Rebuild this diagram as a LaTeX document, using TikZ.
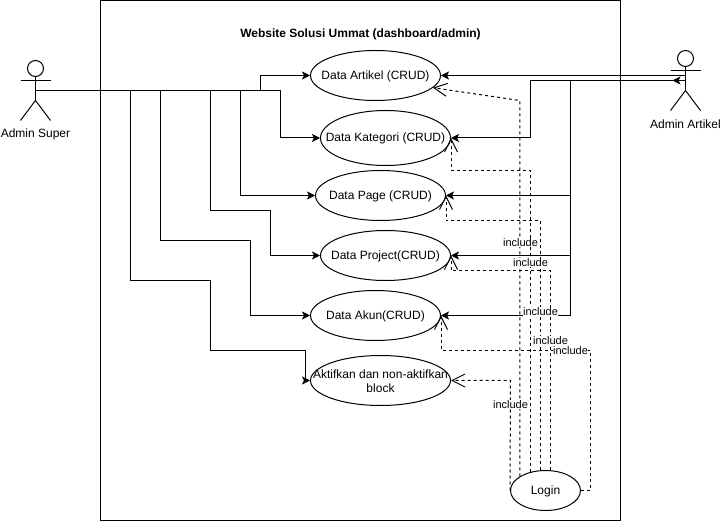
\documentclass[tikz,border=0pt]{standalone}
\usepackage{fontspec}
\setmainfont{Liberation Sans}
\usetikzlibrary{arrows.meta,shapes.geometric}

\tikzset{
  usecase/.style={draw,ellipse,inner sep=0pt,minimum width=130pt,minimum height=50pt},
  include/.style={dashed,-{Straight Barb[length=13pt,width=13pt]}},
  includelabel/.style={fill=white,inner sep=0.5pt,font=\fontsize{11}{13}\selectfont},
}

\begin{document}
\begin{tikzpicture}[>={Stealth[length=8pt,width=8pt,inset=2pt]},x=1pt,y=-1pt,line width=1pt,font=\fontsize{12}{14}\selectfont]
\useasboundingbox (0,0) rectangle (721,521);
% one stick figure drawn from local origin (0,0) = hip
\newcommand{\stickman}{%
  \draw (0,-32) circle (8);
  \draw (0,-24) -- (0,0);
  \draw (-15,-20) -- (15,-20);
  \draw (-15,20) -- (0,0) -- (15,20);
}
\begin{scope}[shift={(0.5,0.5)}]
% --- system boundary ---
\node[draw,minimum width=520pt,minimum height=520pt,inner sep=0pt,outer sep=0pt,anchor=north west] (frame) at (100,0) {};
\node[font=\fontsize{12}{14}\selectfont\bfseries] (title) at (360,33.5) {Website Solusi Ummat (dashboard/admin)};
% --- actors ---
\begin{scope}[shift={(35,100)}]
  \stickman
\end{scope}
\begin{scope}[shift={(685,90)}]
  \stickman
\end{scope}
\node (superlabel) at (35,134) {Admin Super};
\node (artikellabel) at (685,124) {Admin Artikel};
\coordinate (super) at (35,90);
\coordinate (adminA) at (685,75);
\coordinate (adminB) at (685,80);
% --- use cases ---
\node[usecase] (artikel) at (375,75) {};
\node[usecase,minimum height=55pt] (kategori) at (385,137.5) {};
\node[usecase] (page) at (380,195) {};
\node[usecase] (project) at (385,255) {};
\node[usecase] (akun) at (375,315) {};
\node[usecase,minimum width=140pt] (aktifkan) at (380,380) {};
\node[usecase,minimum width=70pt,minimum height=40pt] (login) at (545,490) {};
\node (artikeltext) at (375,76) {Data Artikel (CRUD)};
\node (kategoritext) at (385,138) {Data Kategori (CRUD)};
\node (pagetext) at (380,196) {Data Page (CRUD)};
\node (projecttext) at (385,256) {Data Project(CRUD)};
\node (akuntext) at (375,316) {Data Akun(CRUD)};
\node[align=center] (aktifkantext) at (380,381) {Aktifkan dan non-aktifkan\\block};
\node (logintext) at (545,491) {Login};
% --- Admin Super ---
\draw (super) -- (280,90);
\draw[->] (260,90) |- (artikel.west);
\draw[->] (280,90) |- (kategori.west);
\draw[->] (240,90) |- (page.west);
\draw[->] (210,90) -- (210,210) -- (270,210) |- (project.west);
\draw[->] (160,90) -- (160,240) -- (250,240) |- (akun.west);
\draw[->] (130,90) -- (130,280) -- (210,280) -- (210,350) -- (305,350) |- (aktifkan.west);
% --- Admin Artikel ---
\draw[->] (adminA) -- (artikel.east);
\draw[->] (adminB) -- (672,80);
\draw (672,80) -- (530,80);
\draw[->] (530,80) |- (kategori.east);
\draw (570,80) -- (570,315);
\draw[->] (570,195) -- (page.east);
\draw[->] (570,255) -- (project.east);
\draw[->] (570,315) -- (akun.east);
% --- include ---
\draw[include] (login.151) -- (login.151 |- 0,100) -- (artikel.-12);
\draw[include] (login.130) -- (login.130 |- 0,170) -- (kategori.east |- 0,170) -- (kategori.east);
\draw[include] (login.104) -- (login.104 |- 0,220) -- (page.east |- 0,220) -- (page.east);
\draw[include] (login.76) -- (login.76 |- 0,270) -- (project.east |- 0,270) -- (project.east);
\draw[include] (login.east) -- (590,490) -- (590,350) -- (akun.east |- 0,350) -- (akun.east);
\draw[include] (login.west) -- (510,380) -- (aktifkan.east);
\node[includelabel] (inca) at (520,242) {include};
\node[includelabel] (incb) at (530,262) {include};
\node[includelabel] (incc) at (540,311) {include};
\node[includelabel] (incd) at (550,340) {include};
\node[includelabel] (ince) at (570,350) {include};
\node[includelabel] (incf) at (510,404) {include};
\end{scope}
\end{tikzpicture}
\end{document}
